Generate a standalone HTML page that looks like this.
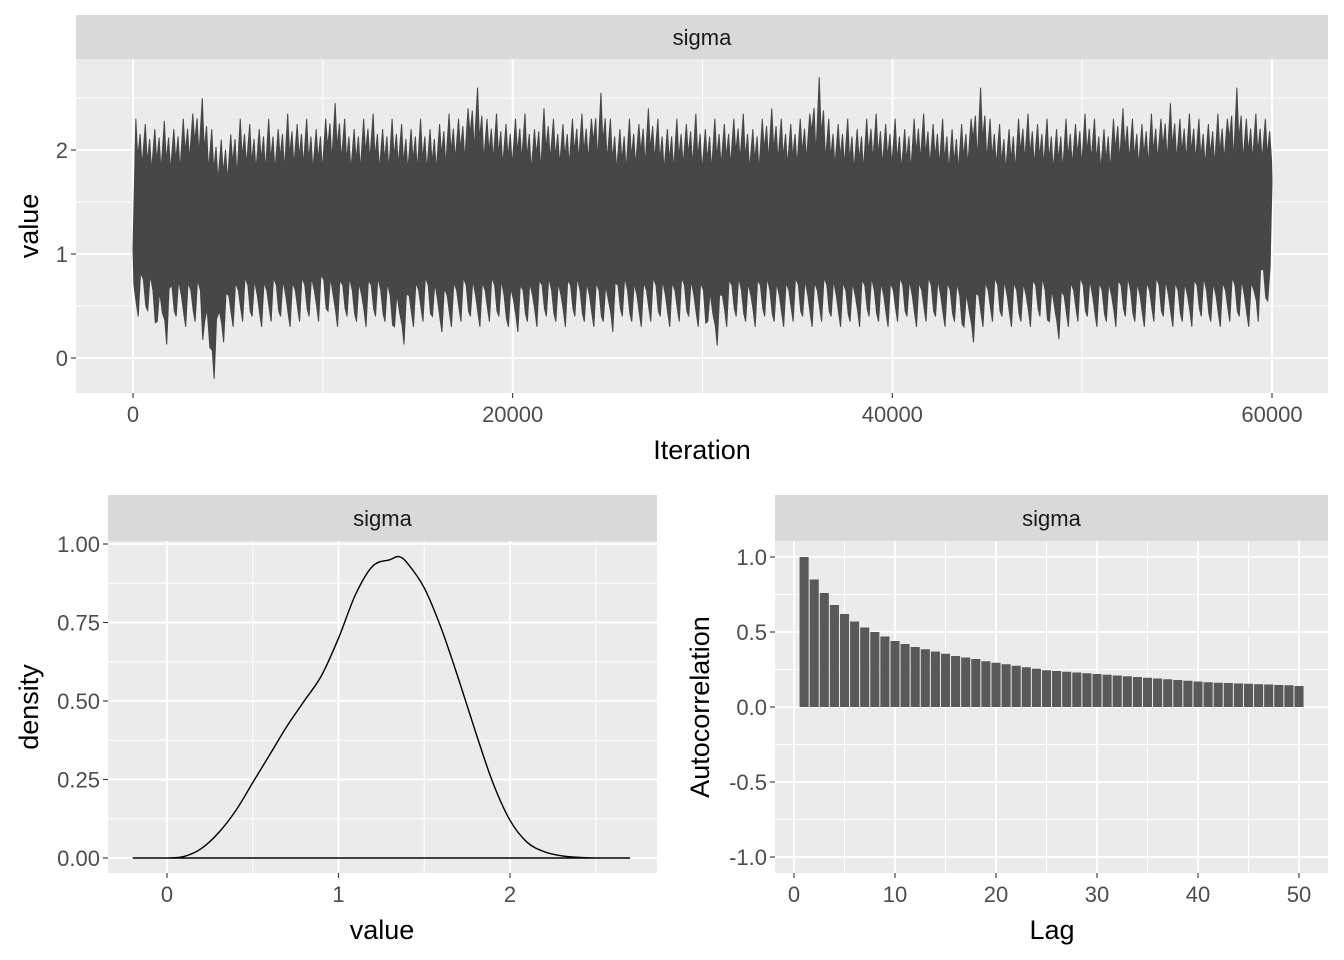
<!DOCTYPE html>
<html><head><meta charset="utf-8"><style>
body{margin:0;background:#fff;}
svg{display:block;font-family:"Liberation Sans",Arial,sans-serif;}
</style></head><body>
<svg id="c" width="1344" height="960" xmlns="http://www.w3.org/2000/svg"></svg>
<script>
// ---- Trace data (per 500-iteration bin max/min) ----
const traceHi=[2.3,2.25,2.2,2.28,2.2,2.3,2.35,2.5,2.2,2.1,2.15,2.3,2.25,2.2,2.3,2.2,2.35,2.25,2.3,2.2,2.3,2.45,2.3,2.2,2.3,2.35,2.2,2.3,2.25,2.2,2.3,2.2,2.25,2.35,2.3,2.4,2.6,2.3,2.35,2.25,2.3,2.35,2.2,2.4,2.3,2.25,2.3,2.35,2.3,2.55,2.3,2.2,2.3,2.25,2.4,2.3,2.2,2.3,2.25,2.35,2.2,2.3,2.25,2.3,2.35,2.2,2.3,2.4,2.3,2.25,2.3,2.35,2.7,2.3,2.25,2.3,2.2,2.3,2.35,2.25,2.3,2.2,2.3,2.35,2.25,2.3,2.2,2.25,2.3,2.6,2.3,2.25,2.2,2.3,2.35,2.25,2.3,2.2,2.3,2.25,2.35,2.3,2.2,2.3,2.4,2.3,2.25,2.35,2.3,2.45,2.3,2.35,2.3,2.25,2.35,2.3,2.6,2.3,2.35,2.3];
const traceLo=[0.4,0.45,0.35,0.13,0.4,0.3,0.35,0.35,-0.2,0.15,0.3,0.35,0.4,0.3,0.35,0.4,0.3,0.35,0.4,0.35,0.45,0.3,0.4,0.35,0.3,0.4,0.35,0.3,0.13,0.3,0.35,0.4,0.25,0.3,0.35,0.4,0.3,0.35,0.4,0.3,0.25,0.35,0.3,0.4,0.35,0.3,0.4,0.35,0.3,0.35,0.25,0.4,0.35,0.3,0.35,0.4,0.3,0.35,0.4,0.3,0.35,0.12,0.3,0.4,0.35,0.3,0.4,0.35,0.3,0.35,0.4,0.3,0.35,0.4,0.3,0.35,0.3,0.4,0.35,0.3,0.35,0.4,0.3,0.35,0.4,0.3,0.35,0.3,0.15,0.3,0.35,0.4,0.3,0.35,0.3,0.4,0.35,0.18,0.3,0.35,0.4,0.3,0.35,0.3,0.4,0.35,0.3,0.35,0.4,0.3,0.35,0.3,0.4,0.35,0.3,0.35,0.4,0.3,0.35,0.55];
const binSize=500;
const traceXTicks=[0,20000,40000,60000];
const traceYTicks=[0,1,2];
// ---- Density ----
const densX=[-0.2,-0.1,0,0.1,0.2,0.3,0.4,0.5,0.6,0.7,0.8,0.9,1.0,1.1,1.2,1.3,1.35,1.4,1.5,1.6,1.7,1.8,1.9,2.0,2.1,2.2,2.3,2.4,2.5,2.6,2.7];
const densY=[0,0,0,0.005,0.03,0.08,0.15,0.24,0.33,0.42,0.5,0.58,0.7,0.84,0.93,0.95,0.96,0.94,0.86,0.73,0.57,0.4,0.24,0.12,0.05,0.02,0.007,0.002,0,0,0];
const densXTicks=[0,1,2];
const densYTicks=[0,0.25,0.5,0.75,1.0];
const densYLabels=["0.00","0.25","0.50","0.75","1.00"];
// ---- ACF ----
const acfLags=[];for(let i=1;i<=50;i++)acfLags.push(i);
const acfVals=[1.0,0.85,0.76,0.68,0.62,0.57,0.53,0.5,0.47,0.44,0.42,0.4,0.385,0.37,0.355,0.34,0.33,0.32,0.305,0.295,0.285,0.275,0.265,0.255,0.245,0.24,0.235,0.23,0.225,0.22,0.215,0.21,0.205,0.2,0.195,0.19,0.185,0.18,0.175,0.17,0.165,0.162,0.16,0.157,0.155,0.152,0.15,0.147,0.145,0.14];
const acfXTicks=[0,10,20,30,40,50];
const acfYTicks=[-1,-0.5,0,0.5,1];
const acfYLabels=["-1.0","-0.5","0.0","0.5","1.0"];

const svg=document.getElementById('c');
const NS='http://www.w3.org/2000/svg';
function mk(tag,attrs,parent,text){const e=document.createElementNS(NS,tag);for(const k in attrs)e.setAttribute(k,attrs[k]);if(text!==undefined)e.textContent=text;(parent||svg).appendChild(e);return e;}

function panel(px,py,pw,ph,sy,stripText,name){
  const g=mk('g',{});
  
  
  const s=mk('rect',{x:px,y:sy,width:pw,height:py-sy,fill:'#D9D9D9'},g);
  
  
  const st=mk('text',{x:px+pw/2,y:sy+(py-sy)/2+8,'text-anchor':'middle','font-size':'22',fill:'#1A1A1A'},g,stripText);
  
  
  const bg=mk('rect',{x:px,y:py,width:pw,height:ph,fill:'#EBEBEB'},g);
  
  
  return g;
}
function vgrid(g,x,y0,y1,w){mk('line',{x1:x,x2:x,y1:y0,y2:y1,stroke:'#fff','stroke-width':w},g);}
function hgrid(g,y,x0,x1,w){mk('line',{x1:x0,x2:x1,y1:y,y2:y,stroke:'#fff','stroke-width':w},g);}
function xtick(g,x,y,label){mk('line',{x1:x,x2:x,y1:y,y2:y+5,stroke:'#333','stroke-width':1.1},g);const t=mk('text',{x:x,y:y+29,'text-anchor':'middle','font-size':'22',fill:'#4D4D4D'},g,label);}
function ytick(g,x,y,label){mk('line',{x1:x-5,x2:x,y1:y,y2:y,stroke:'#333','stroke-width':1.1},g);const t=mk('text',{x:x-8,y:y+8,'text-anchor':'end','font-size':'22',fill:'#4D4D4D'},g,label);}
function title(g,x,y,txt,rot,name){const t=mk('text',{x:x,y:y,'text-anchor':'middle','font-size':'27',fill:'#000',transform:rot?`rotate(-90 ${x} ${y})`:''},g,txt);}

// ===== Trace panel =====
{
 const px=76,py=59,pw=1252,ph=334;
 const g=panel(px,py,pw,ph,15,'sigma','trace-panel');
 const X=v=>133+v/60000*1139, Y=v=>358-v*104;
 [10000,30000,50000].forEach(v=>vgrid(g,X(v),py,py+ph,1));
 [0.5,1.5,2.5].forEach(v=>hgrid(g,Y(v),px,px+pw,1));
 traceXTicks.forEach(v=>vgrid(g,X(v),py,py+ph,2));
 traceYTicks.forEach(v=>hgrid(g,Y(v),px,px+pw,2));
 let top=[],bot=[];
 const n=traceHi.length;
 traceHi.forEach((h,i)=>{
   const hn=traceHi[(i+1)%n];
   top.push(X(i*binSize+binSize*0.3)+','+Y(h));
   top.push(X(i*binSize+binSize*0.5)+','+Y((h+hn)/2-0.35));
   top.push(X(i*binSize+binSize*0.75)+','+Y((h+hn)/2-0.12));
   top.push(X(i*binSize+binSize*0.95)+','+Y(Math.min(h,hn)-0.4));
 });
 traceLo.forEach((l,i)=>{
   const ln=traceLo[(i+1)%n];
   bot.push(X(i*binSize+binSize*0.1)+','+Y(l+0.3));
   bot.push(X(i*binSize+binSize*0.35)+','+Y((l+ln)/2+0.1));
   bot.push(X(i*binSize+binSize*0.55)+','+Y(l));
   bot.push(X(i*binSize+binSize*0.8)+','+Y((l+ln)/2+0.4));
 });
 const pts=[X(0)+','+Y(1.05)].concat(top,[X(60000)+','+Y(1.7)],bot.reverse());
 const p=mk('polygon',{points:pts.join(' '),fill:'#474747',stroke:'#474747','stroke-width':1},g);
 
 
 traceXTicks.forEach(v=>xtick(g,X(v),py+ph,String(v)));
 traceYTicks.forEach(v=>ytick(g,px,Y(v),String(v)));
 title(g,702,459,'Iteration',false,'x-axis-title');
 title(g,38,226,'value',true,'y-axis-title');
}
// ===== Density panel =====
{
 const px=108,py=541,pw=549,ph=332;
 const g=panel(px,py,pw,ph,495,'sigma','density-panel');
 const X=v=>167+v*171.5, Y=v=>858-v*314;
 [-0.5,0.5,1.5,2.5].forEach(v=>{if(X(v)>px)vgrid(g,X(v),py,py+ph,1);});
 [0.125,0.375,0.625,0.875].forEach(v=>hgrid(g,Y(v),px,px+pw,1));
 densXTicks.forEach(v=>vgrid(g,X(v),py,py+ph,2));
 densYTicks.forEach(v=>hgrid(g,Y(v),px,px+pw,2));
 const P=densX.map((x,i)=>[X(x),Y(densY[i])]);
 let d='M'+P[0][0]+','+P[0][1];
 for(let i=0;i<P.length-1;i++){
   const p0=P[Math.max(i-1,0)],p1=P[i],p2=P[i+1],p3=P[Math.min(i+2,P.length-1)];
   d+=` C${p1[0]+(p2[0]-p0[0])/6},${p1[1]+(p2[1]-p0[1])/6} ${p2[0]-(p3[0]-p1[0])/6},${p2[1]-(p3[1]-p1[1])/6} ${p2[0]},${p2[1]}`;
 }
 d+=` L${X(densX[densX.length-1])},${Y(0)} L${X(densX[0])},${Y(0)} Z`;
 const p=mk('path',{d:d,fill:'none',stroke:'#000','stroke-width':1.4},g);
 
 
 densXTicks.forEach(v=>xtick(g,X(v),py+ph,String(v)));
 densYTicks.forEach((v,i)=>ytick(g,px,Y(v),densYLabels[i]));
 title(g,382,939,'value',false,'x-axis-title');
 title(g,38,707,'density',true,'y-axis-title');
}
// ===== ACF panel =====
{
 const px=775,py=541,pw=553,ph=332;
 const g=panel(px,py,pw,ph,495,'sigma','autocorrelation-panel');
 const X=v=>794+v*10.1, Y=v=>707-v*150;
 [5,15,25,35,45].forEach(v=>vgrid(g,X(v),py,py+ph,1));
 [-0.75,-0.25,0.25,0.75].forEach(v=>hgrid(g,Y(v),px,px+pw,1));
 acfXTicks.forEach(v=>vgrid(g,X(v),py,py+ph,2));
 acfYTicks.forEach(v=>hgrid(g,Y(v),px,px+pw,2));
 acfLags.forEach((l,i)=>{
  const v=acfVals[i];
  const b=mk('rect',{x:X(l-0.45),y:Y(Math.max(v,0)),width:X(l+0.45)-X(l-0.45),height:Math.abs(Y(v)-Y(0)),fill:'#595959'},g);
  
  
 });
 acfXTicks.forEach(v=>xtick(g,X(v),py+ph,String(v)));
 acfYTicks.forEach((v,i)=>ytick(g,px,Y(v),acfYLabels[i]));
 title(g,1052,939,'Lag',false,'x-axis-title');
 title(g,709,707,'Autocorrelation',true,'y-axis-title');
}
</script>
</body></html>
